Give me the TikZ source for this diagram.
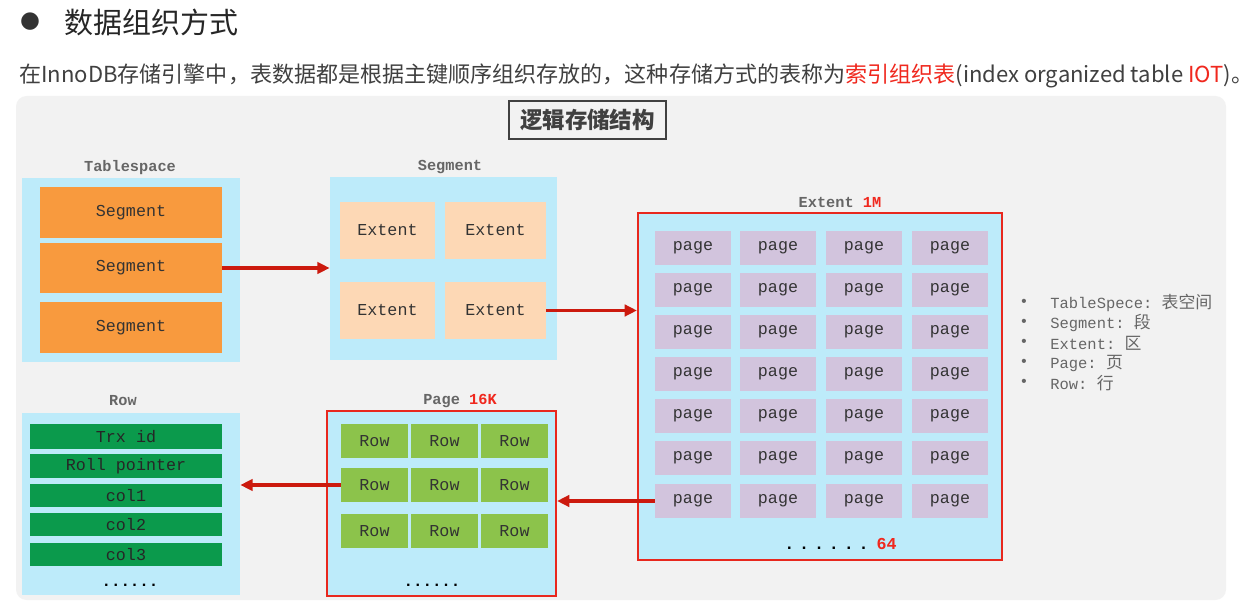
\documentclass[tikz,border=0pt]{standalone}
\usepackage{fontspec}
\setmainfont{Liberation Sans}
\setmonofont{Liberation Mono}
\newfontfamily\cjk{Noto Sans CJK SC}
\newfontfamily\dejavu{DejaVu Sans}
\usetikzlibrary{arrows.meta}
\definecolor{panel}{HTML}{F2F2F2}
\definecolor{lblue}{HTML}{BDEBFA}
\definecolor{segorange}{HTML}{F89A3E}
\definecolor{extpeach}{HTML}{FDD8B5}
\definecolor{pagelav}{HTML}{D2C4DD}
\definecolor{rowgreen}{HTML}{8CC34B}
\definecolor{coldgreen}{HTML}{0B9A4C}
\definecolor{redline}{HTML}{E8281E}
\definecolor{arrowred}{HTML}{CC1A0E}
\definecolor{titlegray}{HTML}{666666}
\definecolor{textdark}{HTML}{333333}
\definecolor{hred}{HTML}{F0281E}
\tikzset{
  area/.style={fill=lblue, inner sep=0pt},
  redarea/.style={fill=lblue, draw=redline, line width=1.2pt, inner sep=0pt},
  cell/.style={inner sep=0pt, font=\ttfamily\fontsize{9.5pt}{11pt}\selectfont, text=textdark},
  segbox/.style={cell, fill=segorange},
  extbox/.style={cell, fill=extpeach},
  pagebox/.style={cell, fill=pagelav},
  rowbox/.style={cell, fill=rowgreen},
  colbox/.style={cell, fill=coldgreen, text=black!85},
  titlebox/.style={draw=black!75, line width=1pt, fill=panel, inner sep=0pt, font=\cjk\bfseries\fontsize{12.8pt}{14pt}\selectfont, text=black!75},
  lbl/.style={font=\ttfamily\bfseries\fontsize{8.7pt}{10pt}\selectfont, text=titlegray, inner sep=0pt},
  link/.style={draw=arrowred, line width=1.8pt, -{Triangle[length=7pt,width=6.5pt]}},
  legend/.style={anchor=west, inner sep=0pt, font=\ttfamily\fontsize{8.8pt}{10pt}\selectfont, text=titlegray},
}
\newcommand\lgcjk[1]{{\cjk\fontsize{9.6pt}{10pt}\selectfont #1}}
% box by corners (pixel units): style, name, x1, y1, x2, y2, text
\newcommand\pxbox[7]{\node[#1, minimum width={0.02cm*(#5-#3)}, minimum height={0.02cm*(#6-#4)}] (#2) at ({(#3+#5)/2},{(#4+#6)/2}) {#7};}
\begin{document}
\begin{tikzpicture}[x=0.02cm,y=-0.02cm]
\useasboundingbox (0,0) rectangle (1257,607);
\fill[white] (0,0) rectangle (1257,607);
% heading
\node[inner sep=0pt, font=\dejavu\fontsize{13pt}{14pt}\selectfont, text=black!80] (hb) at (30,22) {●};
\node[anchor=west, inner sep=0pt, font=\cjk\fontsize{16.5pt}{18pt}\selectfont, text=black!85] (ht) at (64,22) {数据组织方式};
\node[anchor=west, inner sep=0pt, font=\cjk\fontsize{12.55pt}{13pt}\selectfont, text=black!75] (intro) at (19,76)
  {在InnoDB存储引擎中，表数据都是根据主键顺序组织存放的，这种存储方式的表称为\textcolor{hred}{索引组织表}(index organized table \textcolor{hred}{IOT})。};
% panel
\fill[panel, rounded corners=6] (16,96) rectangle (1226,600);
\pxbox{titlebox}{title}{509}{101}{666}{139}{逻辑存储结构}

% Tablespace
\node[lbl] (tsl) at (130,168) {Tablespace};
\pxbox{area}{ts}{22}{178}{240}{362}{}
\pxbox{segbox}{s1}{40}{187}{222}{238}{Segment}
\pxbox{segbox}{s2}{40}{243}{222}{293}{Segment}
\pxbox{segbox}{s3}{40}{302}{222}{353}{Segment}

% Segment
\node[lbl] (sgl) at (450,167) {Segment};
\pxbox{area}{sg}{330}{177}{557}{360}{}
\pxbox{extbox}{e1}{340}{202}{435}{259}{Extent}
\pxbox{extbox}{e2}{445}{202}{546}{259}{Extent}
\pxbox{extbox}{e3}{340}{282}{435}{339}{Extent}
\pxbox{extbox}{e4}{445}{282}{546}{339}{Extent}

% Extent
\node[lbl] (exl) at (840,202) {Extent \textcolor{hred}{1M}};
\pxbox{redarea}{ex}{638}{213}{1002}{560}{}
\foreach \r/\ya in {1/231,2/273,3/315,4/357,5/399,6/441,7/484}{
  \foreach \c/\xa in {1/655,2/740,3/826,4/912}{
    \pxbox{pagebox}{p\r\c}{\xa}{\ya}{\xa+76}{\ya+34}{page}
  }
}
\node[anchor=west, inner sep=0pt, font=\ttfamily\bfseries\fontsize{9.5pt}{11pt}\selectfont] (exdots) at (784,544) {.\hspace{0.55ex}.\hspace{0.55ex}.\hspace{0.55ex}.\hspace{0.55ex}.\hspace{0.55ex}.\hspace{0.9ex}\textcolor{hred}{64}};

% Page
\node[lbl] (pgl) at (460,401) {Page \textcolor{hred}{16K}};
\pxbox{redarea}{pg}{327}{411}{556}{596}{}
\foreach \r/\ya in {1/424,2/468,3/514}{
  \foreach \c/\xa in {1/341,2/411,3/481}{
    \pxbox{rowbox}{r\r\c}{\xa}{\ya}{\xa+67}{\ya+34}{Row}
  }
}
\node[inner sep=0pt, font=\ttfamily\bfseries\fontsize{9pt}{10pt}\selectfont] (pgdots) at (432,585) {......};

% Row
\node[lbl] (rwl) at (123,401) {Row};
\pxbox{area}{rw}{22}{413}{240}{595}{}
\pxbox{colbox}{c1}{30}{424}{222}{449}{Trx id}
\pxbox{colbox}{c2}{30}{454}{222}{478}{Roll pointer}
\pxbox{colbox}{c3}{30}{484}{222}{507}{col1}
\pxbox{colbox}{c4}{30}{513}{222}{536}{col2}
\pxbox{colbox}{c5}{30}{543}{222}{566}{col3}
\node[inner sep=0pt, font=\ttfamily\bfseries\fontsize{9pt}{10pt}\selectfont] (rwdots) at (130,585) {......};

% connectors
\draw[link] (s2.east) -- (sg.west |- s2.east);
\draw[link] (e4.east) -- (ex.west |- e4.east);
\draw[link] (p71.west) -- (pg.east |- p71.west);
\draw[link] (r21.west) -- (rw.east |- r21.west);

% legend
\foreach \i/\yy/\t in {1/303/{TableSpece: \lgcjk{表空间}}, 2/323/{Segment: \lgcjk{段}}, 3/343/{Extent: \lgcjk{区}}, 4/363/{Page: \lgcjk{页}}, 5/383/{Row: \lgcjk{行}}}{
  \node[legend] (lb\i) at (1019,\yy) {•};
  \node[legend] (lt\i) at (1050,\yy) {\t};
}
\end{tikzpicture}
\end{document}
